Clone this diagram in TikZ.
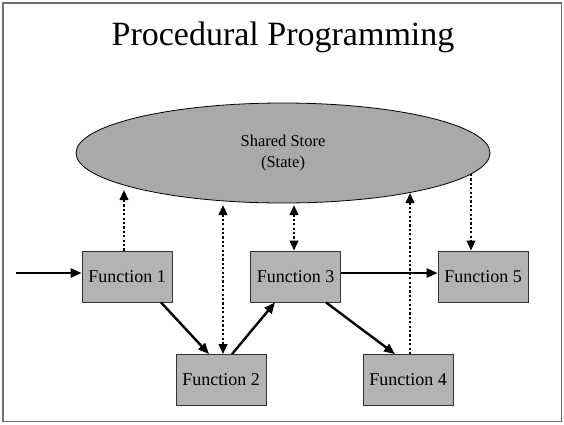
\documentclass[tikz,border=0pt]{standalone}
\usepackage{fontspec}
\setmainfont{Liberation Serif}
\usetikzlibrary{arrows.meta,shapes.geometric}
\definecolor{boxgray}{HTML}{B3B3B3}
\definecolor{ellgray}{HTML}{A9A9A9}
\definecolor{framegray}{HTML}{6E6E6E}
\tikzset{
  fbox/.style={draw=black!80, line width=0.8pt, fill=boxgray, minimum width=90pt, minimum height=51pt, inner sep=0pt, font=\fontsize{18}{20}\selectfont},
  store/.style={ellipse, draw=black, line width=0.8pt, fill=ellgray, minimum width=414pt, minimum height=100pt, inner sep=0pt, align=center, font=\fontsize{16.5}{21.5}\selectfont},
  flow/.style={line width=2.4pt, -{Triangle[length=11pt,width=9pt]}},
  flowtwo/.style={line width=2.2pt, dash pattern=on 2.2pt off 2.2pt, {Triangle[length=10pt,width=8.5pt]}-{Triangle[length=10pt,width=8.5pt]}},
  dotup/.style={line width=2.2pt, dash pattern=on 2.2pt off 2.2pt, -{Triangle[length=10pt,width=8.5pt]}},
}
\begin{document}
\begin{tikzpicture}[x=1pt,y=-1pt]
\useasboundingbox (0,0) rectangle (564,424);
\fill[white] (0,0) rectangle (564,424);
\draw[framegray, line width=1.6pt] (3,3) rectangle (561.5,421.5);
\node[anchor=base, font=\fontsize{34}{37}\selectfont, inner sep=0pt] (title) at (283,45) {Procedural Programming};
\node[store] (S) at (283,153) {Shared Store\\(State)};
\node[fbox] (F1) at (127,276.5) {Function 1};
\node[fbox] (F2) at (221,380) {Function 2};
\node[fbox] (F3) at (295.5,276.5) {Function 3};
\node[fbox] (F4) at (408,380) {Function 4};
\node[fbox] (F5) at (483,276.5) {Function 5};
% free ends
\coordinate (in) at (16,273);
\coordinate (d1) at (124,190);
\coordinate (d2) at (223,205);
\coordinate (d3) at (294,205);
\coordinate (d4) at (410,193);
\coordinate (d5) at (471,174);
% solid flows
\draw[flow] (in) -- (F1.west |- in);
\draw[flow] ([xshift=34pt]F1.south) -- ([xshift=-12pt]F2.north);
\draw[flow] ([xshift=11pt]F2.north) -- ([xshift=-20.5pt]F3.south);
\draw[flow] ([xshift=30.5pt]F3.south) -- ([xshift=-13pt]F4.north);
\draw[flow] (F3.east |- in) -- (F5.west |- in);
% dotted state access
\draw[dotup] (F1.north -| d1) -- (d1);
\draw[flowtwo] (d2) -- (F2.north -| d2);
\draw[flowtwo] (d3) -- (F3.north -| d3);
\draw[dotup] (F4.north -| d4) -- (d4);
\draw[dotup] (d5) -- (F5.north -| d5);
\end{tikzpicture}
\end{document}
